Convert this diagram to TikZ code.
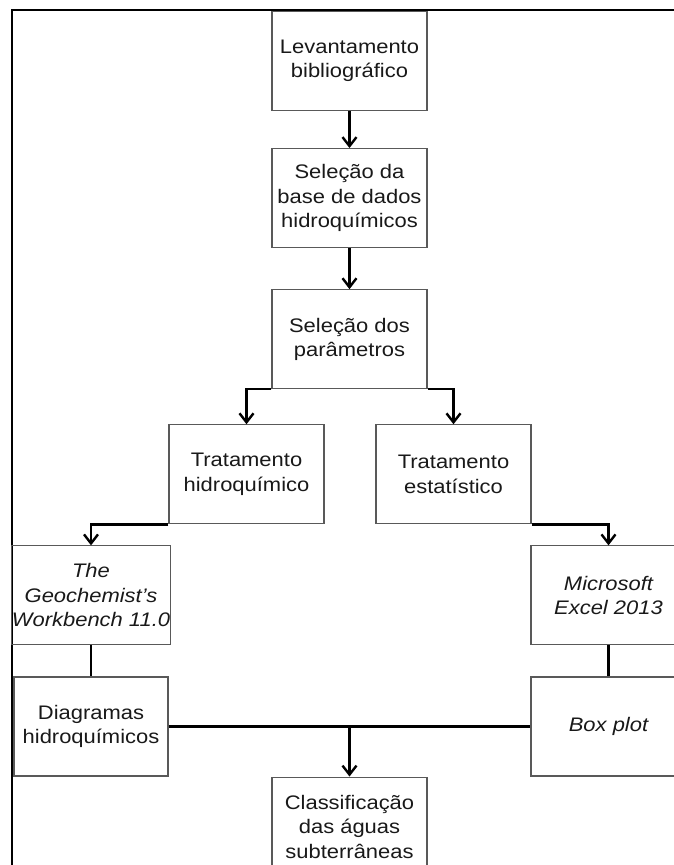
\documentclass[tikz,border=0pt]{standalone}
\usepackage{fontspec}
\setmainfont{Liberation Sans}[FakeStretch=1.12]
\usetikzlibrary{arrows.meta,positioning}

\begin{document}
\begin{tikzpicture}[->,>={Straight Barb[length=9pt,width=14pt]},x=1pt,y=1pt,
                    line width=2.4pt,node distance=37pt]
  \tikzstyle{etapa}=[rectangle,draw=black!65,line width=1.1pt,text=black!90,
                     minimum width=155pt,minimum height=99pt,inner sep=0pt,
                     align=center,font=\fontsize{19.6}{24.5}\selectfont]

  \clip (0,0) rectangle (674,-865);
  \draw[-,line width=2.4pt] (12,-865) |- (674,-10);

  \node[etapa] (lev) at (349.5,-61) {Levantamento\\bibliográfico};
  \node[etapa] (base) [below=37pt of lev] {Seleção da\\base de dados\\hidroquímicos};
  \node[etapa] (par) [below=41pt of base] {Seleção dos\\parâmetros};
  \node[etapa] (hid) [below=35pt of par,xshift=-103pt] {Tratamento\\hidroquímico};
  \node[etapa] (est) [below=35pt of par,xshift=104pt] {Tratamento\\estatístico};
  \node[etapa,minimum width=154pt] (gwb) [below=21pt of hid,xshift=-155.5pt]
       {\itshape The\\\itshape Geochemist’s\\\itshape Workbench 11.0};
  \node[etapa] (exc) [below=21pt of est,xshift=155pt] {\itshape Microsoft\\\itshape Excel 2013};
  \node[etapa,minimum width=154pt] (dia) [below=31pt of gwb] {Diagramas\\hidroquímicos};
  \node[etapa] (box) [below=31pt of exc] {\itshape Box plot};
  \node[etapa,anchor=north] (cla) at (dia.south -| par) {Classificação\\das águas\\subterrâneas};

  \draw (lev) -- (base);
  \draw (base) -- (par);
  \draw (par.south west) -| (hid);
  \draw (par.south east) -| (est);
  \draw (hid.south west) -| (gwb);
  \draw (est.south east) -| (exc);
  \draw[-] (gwb) -- (dia);
  \draw[-] (exc) -- (box);
  \draw[-] (dia) -- (box);
  \draw (dia.east -| cla) -- (cla);
\end{tikzpicture}
\end{document}
